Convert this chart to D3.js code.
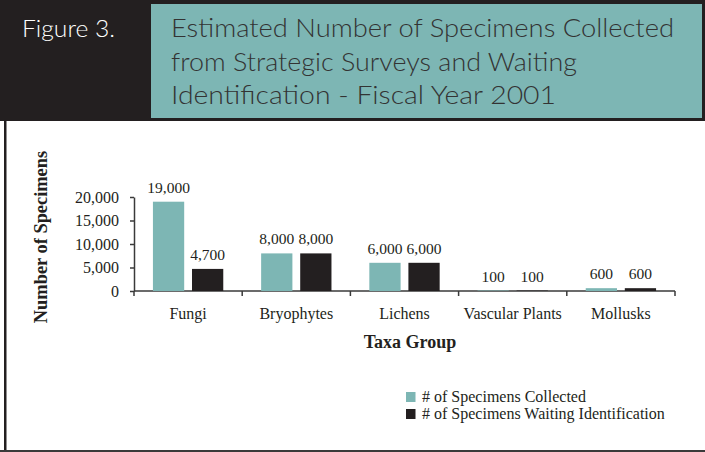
<!DOCTYPE html>
<html>
<head>
<meta charset="utf-8">
<script src="https://cdn.jsdelivr.net/npm/d3@7"></script>
<style>
  body { margin: 0; background: #fff; }
  svg { display: block; }
  .axis path, .axis line { stroke: #3a3a3a; stroke-width: 1.5; }
  .axis text { font-family: "Liberation Serif", "Times New Roman", serif; font-size: 16px; fill: #231f20; }
</style>
</head>
<body>
<div id="graph"></div>
<script>
// data
var taxa = ["Fungi", "Bryophytes", "Lichens", "Vascular Plants", "Mollusks"];
var seriesNames = ["# of Specimens Collected", "# of Specimens Waiting Identification"];
var collected = [19000, 8000, 6000, 100, 600];
var waiting = [4700, 8000, 6000, 100, 600];
var yTicks = [0, 5000, 10000, 15000, 20000];
var titleLines = ["Estimated Number of Specimens Collected",
                  "from Strategic Surveys and Waiting",
                  "Identification - Fiscal Year 2001"];

var width = 705, height = 452;
var teal = "#7db6b4", dark = "#231f20";
var colors = [teal, dark];

var svg = d3.select("#graph")
    .append("svg")
    .attr("width", width)
    .attr("height", height);

// header band
svg.append("rect").attr("x", 0).attr("y", 0).attr("width", width).attr("height", 121).attr("fill", dark);
svg.append("rect").attr("x", 151).attr("y", 4).attr("width", 551).attr("height", 114).attr("fill", teal);

svg.append("text")
    .attr("x", 22).attr("y", 37)
    .style("font-family", "Lato, 'Open Sans', sans-serif")
    .style("font-weight", 300)
    .style("font-size", "24px")
    .attr("fill", "#fff")
    .attr("textLength", 93)
    .attr("lengthAdjust", "spacingAndGlyphs")
    .text("Figure 3.");

var titleWidths = [503, 406, 385];
svg.selectAll(".title-line")
    .data(titleLines)
    .enter().append("text")
    .attr("class", "title-line")
    .attr("x", 171)
    .attr("y", function(d, i) { return 37 + i * 33.5; })
    .style("font-family", "Lato, 'Open Sans', sans-serif")
    .style("font-weight", 300)
    .style("font-size", "25px")
    .attr("fill", "#333")
    .attr("textLength", function(d, i) { return titleWidths[i]; })
    .attr("lengthAdjust", "spacingAndGlyphs")
    .text(function(d) { return d; });

// frame of the lower panel
svg.append("rect").attr("x", 4).attr("y", 121).attr("width", 2.5).attr("height", 331).attr("fill", dark);
svg.append("rect").attr("x", 0).attr("y", 450).attr("width", width).attr("height", 2).attr("fill", "#3a3a3a");

// scales
var x0 = d3.scaleBand().domain(taxa).range([134, 675]).padding(0);
var bw = x0.bandwidth();
var x1 = d3.scaleBand().domain(seriesNames).range([bw * 0.175, bw * 0.825]).paddingInner(0.2);
var y = d3.scaleLinear().domain([0, 20000]).range([291, 197]);

var fmt = d3.format(",");

// y axis
svg.append("g")
    .attr("class", "axis axis--y")
    .attr("transform", "translate(134,0)")
    .call(d3.axisLeft(y).tickValues(yTicks).tickFormat(fmt).tickSize(4).tickPadding(11).tickSizeOuter(0));

// x axis: ticks between groups
var xAxisG = svg.append("g")
    .attr("class", "axis axis--x")
    .attr("transform", "translate(0,291)");
xAxisG.append("line").attr("x1", 134).attr("x2", 675).attr("y1", 0).attr("y2", 0);
xAxisG.selectAll(".sep")
    .data(taxa.concat(["end"]))
    .enter().append("line")
    .attr("class", "sep")
    .attr("x1", function(d, i) { return 134 + i * bw; })
    .attr("x2", function(d, i) { return 134 + i * bw; })
    .attr("y1", 0).attr("y2", 5);
xAxisG.selectAll(".cat")
    .data(taxa)
    .enter().append("text")
    .attr("class", "cat")
    .attr("x", function(d) { return x0(d) + bw / 2; })
    .attr("y", 28)
    .attr("text-anchor", "middle")
    .text(function(d) { return d; });

// bars
var rows = taxa.map(function(t, i) {
    return { taxon: t, values: [collected[i], waiting[i]] };
});

var groups = svg.selectAll(".group")
    .data(rows)
    .enter().append("g")
    .attr("class", "group")
    .attr("transform", function(d) { return "translate(" + x0(d.taxon) + ",0)"; });

groups.selectAll("rect")
    .data(function(d) { return d.values.map(function(v, j) { return { s: seriesNames[j], v: v, j: j }; }); })
    .enter().append("rect")
    .attr("x", function(d) { return x1(d.s); })
    .attr("y", function(d) { return y(d.v); })
    .attr("width", x1.bandwidth())
    .attr("height", function(d) { return 291 - y(d.v); })
    .attr("fill", function(d) { return colors[d.j]; });

groups.selectAll(".val")
    .data(function(d) { return d.values.map(function(v, j) { return { s: seriesNames[j], v: v }; }); })
    .enter().append("text")
    .attr("class", "val")
    .attr("x", function(d) { return x1(d.s) + x1.bandwidth() / 2; })
    .attr("y", function(d) { return y(d.v) - 9; })
    .attr("text-anchor", "middle")
    .style("font-family", "'Liberation Serif', 'Times New Roman', serif")
    .style("font-size", "15.5px")
    .attr("fill", dark)
    .text(function(d) { return fmt(d.v); });

// axis titles
svg.append("text")
    .attr("x", 410).attr("y", 348)
    .attr("text-anchor", "middle")
    .style("font-family", "'Liberation Serif', 'Times New Roman', serif")
    .style("font-weight", "bold")
    .style("font-size", "18px")
    .attr("fill", dark)
    .text("Taxa Group");

svg.append("text")
    .attr("transform", "translate(47,237) rotate(-90)")
    .attr("text-anchor", "middle")
    .style("font-family", "'Liberation Serif', 'Times New Roman', serif")
    .style("font-weight", "bold")
    .style("font-size", "18.4px")
    .attr("fill", dark)
    .text("Number of Specimens");

// legend
var legend = svg.selectAll(".legend")
    .data(seriesNames)
    .enter().append("g")
    .attr("class", "legend")
    .attr("transform", function(d, i) { return "translate(406," + (392 + i * 17) + ")"; });
legend.append("rect")
    .attr("width", 9.5).attr("height", 10)
    .attr("fill", function(d, i) { return colors[i]; });
legend.append("text")
    .attr("x", 16).attr("y", 10)
    .style("font-family", "'Liberation Serif', 'Times New Roman', serif")
    .style("font-size", "16px")
    .attr("fill", dark)
    .text(function(d) { return d; });
</script>
</body>
</html>
